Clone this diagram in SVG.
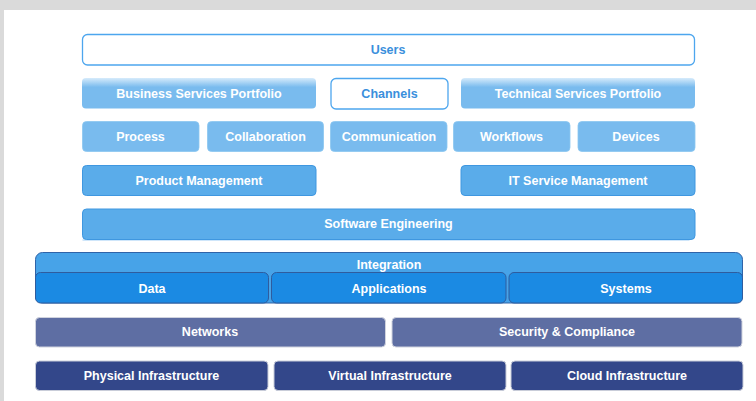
<svg xmlns="http://www.w3.org/2000/svg" width="756" height="401" viewBox="0 0 756 401">
<defs>
<linearGradient id="gTop" x1="0" y1="0" x2="0" y2="1">
<stop offset="0" stop-color="#d6ebfb"/>
<stop offset="0.3" stop-color="#79bbee"/>
<stop offset="1" stop-color="#79bbee"/>
</linearGradient>
<style>
text{font-family:"Liberation Sans","DejaVu Sans",sans-serif;font-size:12.5px;font-weight:600;text-anchor:middle;dominant-baseline:central;fill:#ffffff}
.outline rect{fill:#ffffff;stroke:#4da6ee;stroke-width:1.3}
.outline text{fill:#3a8fdc}
.port rect{fill:url(#gTop)}
.lite rect{fill:#79bbee;stroke:#8cc6f0;stroke-width:0.8}
.mid rect{fill:#5aacea;stroke:#3f97e0;stroke-width:1}
.integ{fill:#47a3e8;stroke:#2f63a8;stroke-width:1}
.dat rect{fill:#1b8ae3;stroke:#2f5c9e;stroke-width:1}
.net rect{fill:#5e6ea3;stroke:#d0d3de;stroke-width:1}
.infra rect{fill:#33478a;stroke:#c9cdd9;stroke-width:1}
</style>
</defs>
<rect x="0" y="0" width="756" height="401" fill="#ffffff"/>
<rect x="0" y="0" width="756" height="10" fill="#dadada"/>
<rect x="0" y="0" width="4" height="401" fill="#dadada"/>

<g id="users" class="outline"><rect x="82.5" y="34.5" width="612" height="30.5" rx="5"/><text x="388" y="50">Users</text></g>
<g id="business-services" class="port"><rect x="82" y="78" width="234" height="30.5" rx="4"/><text x="199" y="93.5">Business Services Portfolio</text></g>
<g id="channels" class="outline"><rect x="331" y="78.5" width="117" height="30.5" rx="5"/><text x="389.5" y="94">Channels</text></g>
<g id="technical-services" class="port"><rect x="461" y="78" width="234" height="30.5" rx="4"/><text x="578" y="93.5">Technical Services Portfolio</text></g>

<g id="process" class="lite"><rect x="82.5" y="121.5" width="116.5" height="30" rx="4"/><text x="140.5" y="136.5">Process</text></g>
<g id="collaboration" class="lite"><rect x="207.5" y="121.5" width="116" height="30" rx="4"/><text x="265.5" y="136.5">Collaboration</text></g>
<g id="communication" class="lite"><rect x="330.5" y="121.5" width="116.5" height="30" rx="4"/><text x="389" y="136.5">Communication</text></g>
<g id="workflows" class="lite"><rect x="453.5" y="121.5" width="116.5" height="30" rx="4"/><text x="511.5" y="136.5">Workflows</text></g>
<g id="devices" class="lite"><rect x="578" y="121.5" width="117" height="30" rx="4"/><text x="636" y="136.5">Devices</text></g>

<g id="product-management" class="mid"><rect x="82.5" y="165.5" width="233.5" height="30" rx="4"/><text x="199" y="180.5">Product Management</text></g>
<g id="it-service-management" class="mid"><rect x="461" y="165.5" width="234" height="30" rx="4"/><text x="578" y="180.5">IT Service Management</text></g>
<g id="software-engineering" class="mid"><rect x="82.5" y="239" width="607" height="2" fill="#cfe6fa" stroke="none" style="fill:#cfe6fa;stroke:none"/><rect x="82.5" y="209" width="612.5" height="30.5" rx="4"/><text x="388.5" y="224">Software Engineering</text></g>

<g id="integration"><rect class="integ" x="35.5" y="252.5" width="707" height="50.5" rx="7"/><text x="389" y="265">Integration</text></g>
<g id="data" class="dat"><rect x="35.5" y="272.5" width="233" height="30.5" rx="5"/><text x="152" y="289">Data</text></g>
<g id="applications" class="dat"><rect x="271.5" y="272.5" width="234.5" height="30.5" rx="5"/><text x="389" y="289">Applications</text></g>
<g id="systems" class="dat"><rect x="509" y="272.5" width="233.5" height="30.5" rx="5"/><text x="626" y="289">Systems</text></g>

<g id="networks" class="net"><rect x="35.5" y="317.5" width="350" height="29.5" rx="4"/><text x="210" y="332">Networks</text></g>
<g id="security-compliance" class="net"><rect x="392" y="317.5" width="350" height="29.5" rx="4"/><text x="567" y="332">Security &amp; Compliance</text></g>

<g id="physical-infrastructure" class="infra"><rect x="35.5" y="361" width="232.5" height="29.5" rx="4"/><text x="151.5" y="376">Physical Infrastructure</text></g>
<g id="virtual-infrastructure" class="infra"><rect x="274" y="361" width="232" height="29.5" rx="4"/><text x="390" y="376">Virtual Infrastructure</text></g>
<g id="cloud-infrastructure" class="infra"><rect x="511" y="361" width="232" height="29.5" rx="4"/><text x="627" y="376">Cloud Infrastructure</text></g>

<g id="connectors"></g>
</svg>
